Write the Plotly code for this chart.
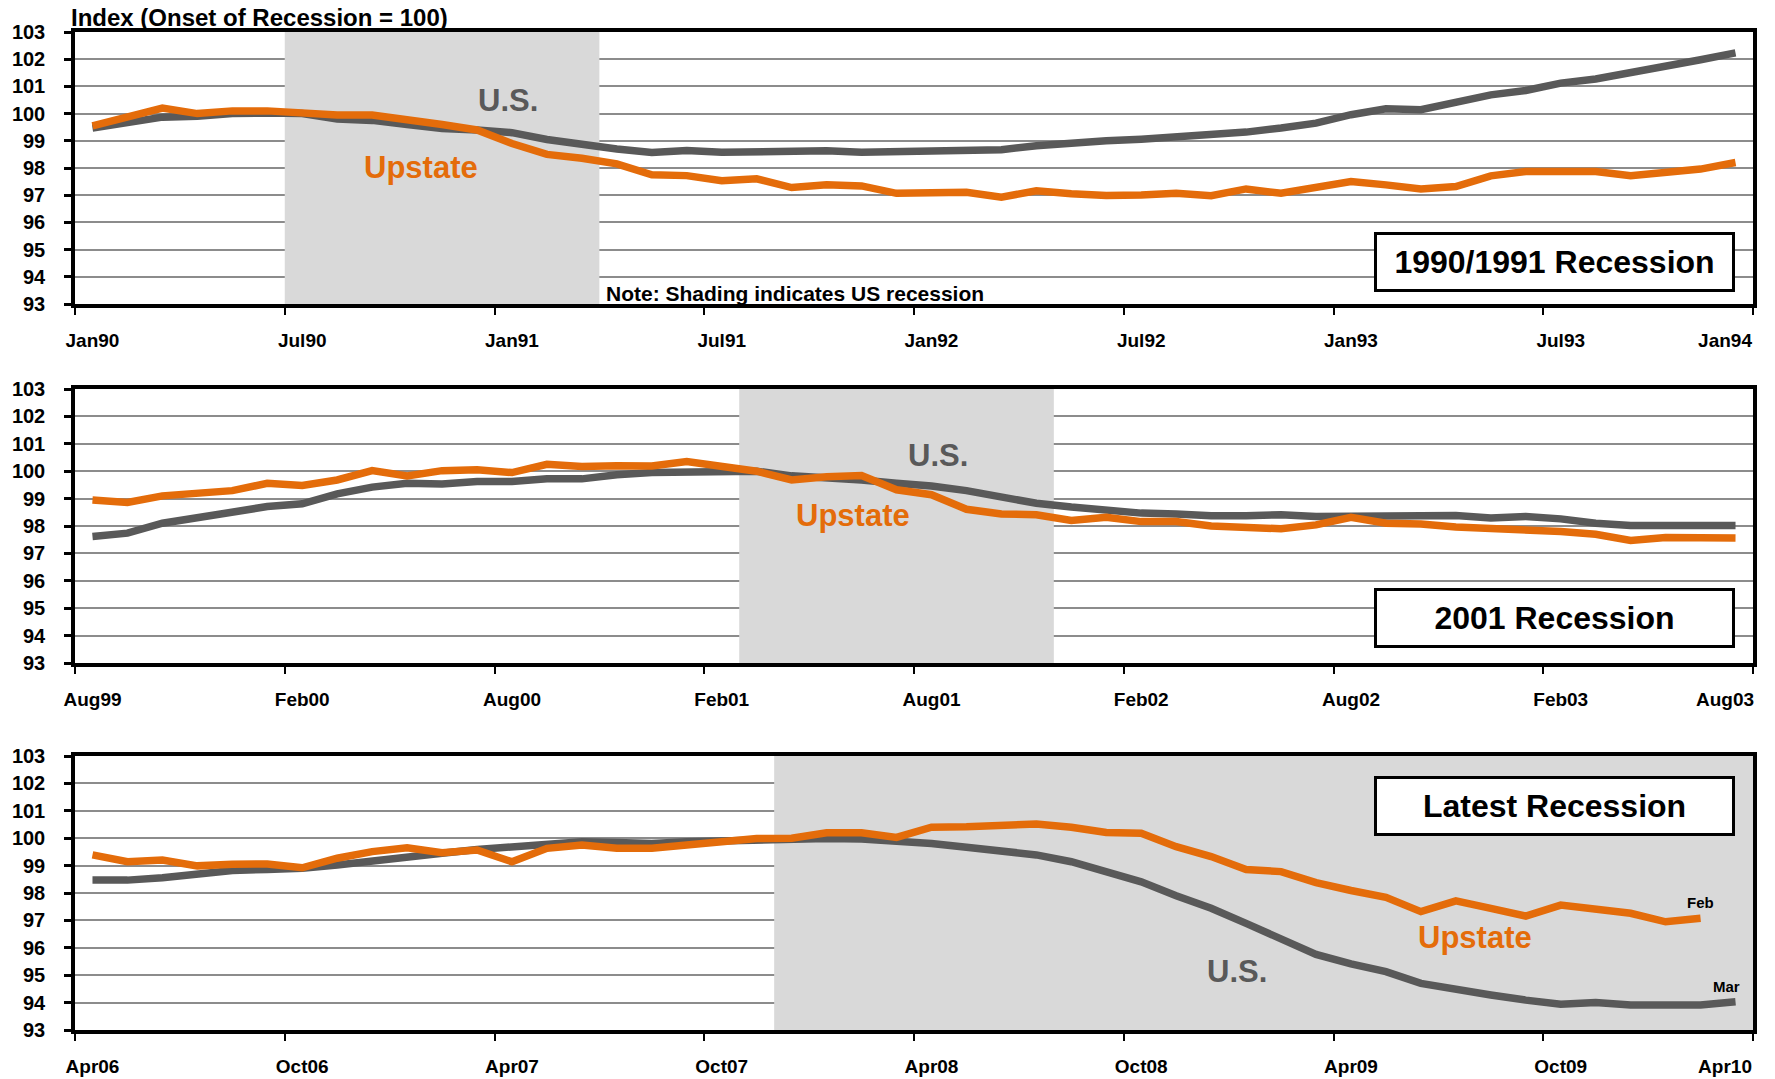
import plotly.graph_objects as go

# ---------------- data: employment index, onset of recession = 100 ----------------
# 1990/1991 recession panel (48 monthly points starting Jan 1990)
labels_1990 = ["Jan90", "Jul90", "Jan91", "Jul91", "Jan92", "Jul92", "Jan93", "Jul93", "Jan94"]
us_1990 = [99.47, 99.65, 99.87, 99.90, 100.00, 100.02, 100.00, 99.80, 99.75, 99.60, 99.45, 99.40,
           99.30, 99.05, 98.85, 98.70, 98.57, 98.64, 98.58, 98.60, 98.62, 98.63, 98.58, 98.60,
           98.64, 98.60, 98.67, 98.82, 98.94, 99.00, 99.06, 99.16, 99.20, 99.32, 99.47, 99.65,
           99.96, 100.18, 100.14, 100.45, 100.69, 100.85, 101.12, 101.27, 101.49, 101.74, 101.98, 102.23]
upstate_1990 = [99.55, 99.90, 100.20, 100.00, 100.10, 100.10, 100.00, 99.95, 99.95, 99.80, 99.60, 99.40,
                98.90, 98.50, 98.36, 98.15, 97.75, 97.72, 97.53, 97.60, 97.28, 97.38, 97.34, 97.07,
                97.10, 97.11, 96.93, 97.16, 97.05, 96.99, 97.01, 97.07, 96.98, 97.23, 97.07, 97.29,
                97.50, 97.38, 97.23, 97.32, 97.71, 97.87, 97.87, 97.87, 97.72, 97.87, 97.96, 98.20]
recession_1990 = (6, 14)      # Jul90 .. Mar91 (month index)

# 2001 recession panel (48 monthly points starting Aug 1999)
labels_2001 = ["Aug99", "Feb00", "Aug00", "Feb01", "Aug01", "Feb02", "Aug02", "Feb03", "Aug03"]
us_2001 = [97.62, 97.74, 98.10, 98.31, 98.53, 98.71, 98.81, 99.17, 99.42, 99.56, 99.53, 99.62,
           99.62, 99.72, 99.72, 99.87, 99.95, 99.97, 100.00, 100.00, 99.83, 99.77, 99.68, 99.56,
           99.46, 99.29, 99.05, 98.83, 98.69, 98.59, 98.47, 98.44, 98.37, 98.37, 98.41, 98.35,
           98.37, 98.35, 98.40, 98.38, 98.29, 98.35, 98.26, 98.10, 98.02, 98.02, 98.02, 98.02]
upstate_2001 = [98.95, 98.86, 99.10, 99.22, 99.29, 99.56, 99.48, 99.68, 100.02, 99.83, 100.02, 100.05,
                99.95, 100.25, 100.17, 100.20, 100.19, 100.35, 100.17, 100.00, 99.68, 99.80, 99.84, 99.32,
                99.14, 98.61, 98.44, 98.41, 98.20, 98.32, 98.16, 98.16, 98.00, 97.92, 97.90, 98.04,
                98.32, 98.10, 98.07, 97.96, 97.92, 97.88, 97.80, 97.70, 97.47, 97.58, 97.56, 97.56]
recession_2001 = (19, 27)     # Mar01 .. Nov01

# Latest recession panel (monthly points starting Apr 2006; U.S. through Mar10, Upstate through Feb10)
labels_2008 = ["Apr06", "Oct06", "Apr07", "Oct07", "Apr08", "Oct08", "Apr09", "Oct09", "Apr10"]
us_2008 = [98.47, 98.47, 98.56, 98.72, 98.82, 98.86, 98.90, 99.02, 99.18, 99.35, 99.45, 99.59,
           99.69, 99.79, 99.87, 99.84, 99.81, 99.87, 99.91, 99.93, 100.00, 99.99, 99.97, 99.90,
           99.81, 99.67, 99.53, 99.39, 99.14, 98.80, 98.41, 97.90, 97.44, 96.89, 96.32, 95.76,
           95.41, 95.13, 94.70, 94.46, 94.28, 94.09, 93.94, 94.00, 93.91, 93.91, 93.91, 94.03]
upstate_2008 = [99.39, 99.14, 99.20, 98.99, 99.05, 99.06, 98.92, 99.27, 99.51, 99.65, 99.47, 99.57,
                99.14, 99.63, 99.75, 99.63, 99.63, 99.72, 99.87, 99.99, 100.00, 100.20, 100.20, 100.03,
                100.40, 100.42, 100.45, 100.52, 100.40, 100.21, 100.18, 99.69, 99.33, 98.86, 98.78, 98.38,
                98.09, 97.84, 97.32, 97.71, 97.44, 97.16, 97.56, 97.38, 97.26, 96.95, 97.08]
recession_2008 = (20, 47)     # Dec07 .. end of sample

panel_titles = ["1990/1991 Recession", "2001 Recession", "Latest Recession"]

# ---------------- styling ----------------
FONT = "Liberation Sans, Arial, sans-serif"
GRAY = "#595959"
ORANGE = "#E46C0A"
SHADE = "#D9D9D9"
N_MONTHS = 48
Y_MIN, Y_MAX = 93, 103

W, H = 1775, 1079
X_LEFT, X_RIGHT = 75, 1753
panel_px = [(32, 304), (389, 663), (756, 1030)]    # (top, bottom) of each plot area
box_px = [(232, 292), (588, 648), (776, 837)]      # (top, bottom) of each title box


def ydom(top, bottom):
    return [(H - bottom) / H, (H - top) / H]


fig = go.Figure()

panels = [
    (labels_1990, us_1990, upstate_1990, recession_1990),
    (labels_2001, us_2001, upstate_2001, recession_2001),
    (labels_2008, us_2008, upstate_2008, recession_2008),
]

# labels every six months; the closing label sits just inside the right edge
label_pos = list(range(0, N_MONTHS, 6)) + [N_MONTHS - 1.3]
boundaries = [i - 0.5 for i in range(0, N_MONTHS + 1, 6)]

for k, (labels, us, up, rec) in enumerate(panels):
    sfx = "" if k == 0 else str(k + 1)
    xa, ya = "x" + sfx, "y" + sfx

    # recession shading: a filled band spanning the recession months, drawn above the grid
    a, b = rec[0] - 0.5, rec[1] + 0.5
    fig.add_trace(go.Scatter(x=[a, b, b, a, a], y=[Y_MIN, Y_MIN, Y_MAX, Y_MAX, Y_MIN],
                             mode="lines", fill="toself", fillcolor=SHADE,
                             line=dict(width=0, color=SHADE), xaxis=xa, yaxis=ya,
                             showlegend=False, hoverinfo="skip"))

    fig.add_trace(go.Scatter(x=list(range(len(us))), y=us, mode="lines",
                             line=dict(color=GRAY, width=7.5), xaxis=xa, yaxis=ya,
                             name="U.S.", showlegend=False, hoverinfo="skip"))
    fig.add_trace(go.Scatter(x=list(range(len(up))), y=up, mode="lines",
                             line=dict(color=ORANGE, width=7.5), xaxis=xa, yaxis=ya,
                             name="Upstate", showlegend=False, hoverinfo="skip"))

    top, bottom = panel_px[k]
    fig.layout["xaxis" + sfx] = dict(
        domain=[X_LEFT / W, X_RIGHT / W], anchor=ya, range=[-0.5, N_MONTHS - 0.5],
        tickmode="array", tickvals=label_pos, ticktext=labels, ticks="",
        ticklabelstandoff=16, automargin=False,
        tickfont=dict(family=FONT, size=19, color="black", weight="bold"),
        showgrid=False, zeroline=False, showline=True, linecolor="black", linewidth=3.5,
        mirror=True,
        minor=dict(tickmode="array", tickvals=boundaries, ticks="outside", ticklen=7,
                   tickwidth=2, tickcolor="black", showgrid=False),
    )
    fig.layout["yaxis" + sfx] = dict(
        domain=ydom(top, bottom), anchor=xa, range=[Y_MIN, Y_MAX], tick0=Y_MIN, dtick=1,
        ticks="outside", ticklen=7, tickwidth=2.5, tickcolor="black",
        ticklabelstandoff=15, automargin=False,
        tickfont=dict(family=FONT, size=20, color="black", weight="bold"),
        showgrid=True, gridcolor="#8C8C8C", gridwidth=1.6,
        zeroline=False, showline=True, linecolor="black", linewidth=3.5, mirror=True,
    )

    # panel title box
    bt, bb = box_px[k]
    fig.add_annotation(xref="paper", yref="paper", x=(1374 + 1734) / 2 / W,
                       y=(H - (bt + bb) / 2) / H,
                       text="<b>" + panel_titles[k] + "</b>", showarrow=False,
                       font=dict(family=FONT, size=32, color="black"),
                       bgcolor="white", bordercolor="black", borderwidth=3, borderpad=0,
                       width=355, height=54, xanchor="center", yanchor="middle")


def series_label(text, color, xa, ya, x, y, size=31):
    fig.add_annotation(xref=xa, yref=ya, x=x, y=y, text="<b>" + text + "</b>", showarrow=False,
                       font=dict(family=FONT, size=size, color=color),
                       xanchor="center", yanchor="middle")


series_label("U.S.", GRAY, "x", "y", 11.9, 100.48)
series_label("Upstate", ORANGE, "x", "y", 9.4, 98.03)
series_label("U.S.", GRAY, "x2", "y2", 24.2, 100.57)
series_label("Upstate", ORANGE, "x2", "y2", 21.75, 98.38)
series_label("U.S.", GRAY, "x3", "y3", 32.75, 95.15)
series_label("Upstate", ORANGE, "x3", "y3", 39.55, 96.38)
series_label("Feb", "black", "x3", "y3", 46.0, 97.65, size=15)
series_label("Mar", "black", "x3", "y3", 46.75, 94.57, size=15)

# axis title and note
fig.add_annotation(xref="paper", yref="paper", x=69 / W, y=(H - 17) / H,
                   text="<b>Index (Onset of Recession = 100)</b>", showarrow=False,
                   font=dict(family=FONT, size=24, color="black"),
                   xanchor="left", yanchor="middle")
fig.add_annotation(xref="paper", yref="paper", x=604 / W, y=(H - 293) / H,
                   text="<b>Note: Shading indicates US recession</b>", showarrow=False,
                   font=dict(family=FONT, size=21, color="black"),
                   xanchor="left", yanchor="middle")

fig.update_layout(
    width=W, height=H, margin=dict(l=0, r=0, t=0, b=0, pad=0, autoexpand=False),
    paper_bgcolor="white", plot_bgcolor="white", showlegend=False,
    font=dict(family=FONT),
)

fig.write_html("out.html")
